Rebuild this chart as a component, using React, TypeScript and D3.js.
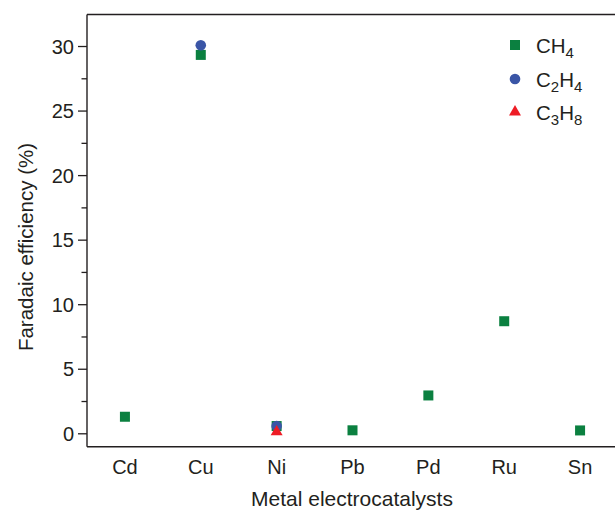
import React from "react";
import * as d3 from "d3";

const categories = ["Cd", "Cu", "Ni", "Pb", "Pd", "Ru", "Sn"];
const ch4Values: (number | null)[] = [1.32, 29.35, 0.6, 0.27, 2.97, 8.72, 0.26];
const c2h4Values: (number | null)[] = [null, 30.1, 0.6, null, null, null, null];
const c3h8Values: (number | null)[] = [null, null, 0.15, null, null, null, null];
const yMajorTicks = [0, 5, 10, 15, 20, 25, 30];
const yMinorTicks = [2.5, 7.5, 12.5, 17.5, 22.5, 27.5];

const W = 615;
const H = 510;
const left = 87;
const right = 618;
const top = 14.5;
const bottom = 446.7;

const GREEN = "#0b8040";
const BLUE = "#3a55a6";
const RED = "#ee1c25";
const INK = "#231f20";
const FONT = "'Liberation Sans', Arial, Helvetica, sans-serif";

export default function App() {
  const x = d3.scaleBand<string>().domain(categories).range([left, right]);
  const cx = (c: string) => (x(c) as number) + x.bandwidth() / 2;
  const y = d3.scaleLinear().domain([-1, 32.48]).range([bottom, top]);

  const sq = 10;
  const tri = d3.symbol().type(d3.symbolTriangle).size(62)();

  return (
    <svg
      width={W}
      height={H}
      style={{ position: "absolute", left: 0, top: 0, background: "#fff" }}
      fontFamily={FONT}
    >
      <line x1={left} x2={W} y1={top} y2={top} stroke={INK} strokeWidth={1.4} />
      <line x1={left} x2={W} y1={bottom} y2={bottom} stroke={INK} strokeWidth={1.4} />
      <line x1={left} x2={left} y1={top} y2={bottom} stroke={INK} strokeWidth={1.4} />

      {yMajorTicks.map((t) => (
        <g key={"M" + t}>
          <line x1={left - 9} x2={left} y1={y(t)} y2={y(t)} stroke={INK} strokeWidth={1.3} />
          <text x={left - 13} y={y(t)} dy="0.36em" textAnchor="end" fontSize={20} fill={INK}>
            {t}
          </text>
        </g>
      ))}
      {yMinorTicks.map((t) => (
        <line key={"m" + t} x1={left - 5.5} x2={left} y1={y(t)} y2={y(t)} stroke={INK} strokeWidth={1.3} />
      ))}

      {categories.map((c) => (
        <text key={c} x={cx(c)} y={474} textAnchor="middle" fontSize={20} fill={INK}>
          {c}
        </text>
      ))}

      <text x={352} y={506} textAnchor="middle" fontSize={21} fill={INK}>
        Metal electrocatalysts
      </text>
      <text
        transform={`translate(33,${247}) rotate(-90)`}
        textAnchor="middle"
        fontSize={20.5}
        fill={INK}
      >
        Faradaic efficiency (%)
      </text>

      {categories.map((c, i) =>
        ch4Values[i] == null ? null : (
          <rect key={"s" + c} x={cx(c) - sq / 2} y={y(ch4Values[i] as number) - sq / 2} width={sq} height={sq} fill={GREEN} />
        )
      )}
      {categories.map((c, i) =>
        c2h4Values[i] == null ? null : (
          <circle key={"c" + c} cx={cx(c)} cy={y(c2h4Values[i] as number)} r={5.3} fill={BLUE} />
        )
      )}
      {categories.map((c, i) =>
        c3h8Values[i] == null ? null : (
          <path key={"t" + c} d={tri as string} transform={`translate(${cx(c)},${y(c3h8Values[i] as number)})`} fill={RED} />
        )
      )}

      <rect x={515 - 5} y={45 - 5} width={10} height={10} fill={GREEN} />
      <circle cx={515} cy={79} r={5.3} fill={BLUE} />
      <path d={tri as string} transform="translate(515,112)" fill={RED} />
      <text x={536} y={53} fontSize={20.5} fill={INK}>
        CH<tspan dy={5} fontSize={15}>4</tspan>
      </text>
      <text x={536} y={87} fontSize={20.5} fill={INK}>
        C<tspan dy={5} fontSize={15}>2</tspan>
        <tspan dy={-5}>H</tspan>
        <tspan dy={5} fontSize={15}>4</tspan>
      </text>
      <text x={536} y={120} fontSize={20.5} fill={INK}>
        C<tspan dy={5} fontSize={15}>3</tspan>
        <tspan dy={-5}>H</tspan>
        <tspan dy={5} fontSize={15}>8</tspan>
      </text>
    </svg>
  );
}
